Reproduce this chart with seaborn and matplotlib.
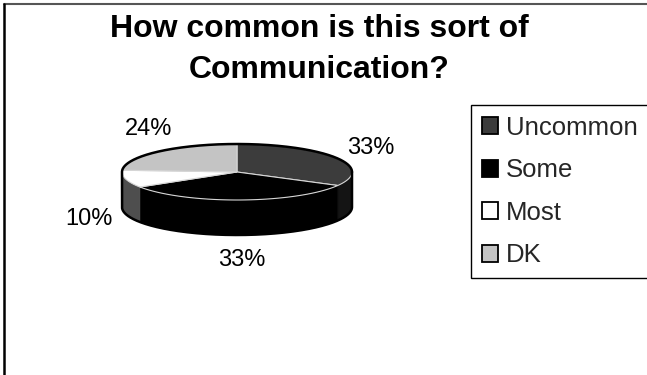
import numpy as np
import matplotlib
matplotlib.use("Agg")
import matplotlib.pyplot as plt
from matplotlib.patches import Polygon, Patch
from matplotlib.lines import Line2D
import seaborn as sns

# Survey answers and their shares (percent)
categories = ["Uncommon", "Some", "Most", "DK"]
shares = [33, 33, 10, 24]
value_labels = [f"{v}%" for v in shares]
title_lines = ["How common is this sort of", "Communication?"]

# Greyscale fills: top faces and the darker rim of each slice
top_colors = ["#3c3c3c", "#000000", "#ffffff", "#c4c4c4"]
side_colors = ["#141414", "#000000", "#4e4e4e", "#8a8a8a"]

sns.set_theme(style="white")
plt.rcParams["font.family"] = ["Liberation Sans", "DejaVu Sans"]

W, H = 647, 375
fig = plt.figure(figsize=(W / 100, H / 100), dpi=100)
fig.patch.set_facecolor("white")
ax = fig.add_axes([0, 0, 1, 1])
ax.set_xlim(0, W)
ax.set_ylim(H, 0)
ax.axis("off")

# Tilted pie geometry (in axes units)
cx, cy, rx, ry, depth = 237, 172, 115, 28, 35
# small hand nudges for the percentage labels (dx, dy)
label_nudge = {"Uncommon": (2, 3), "Some": (0, -1), "Most": (0, -1), "DK": (16, -4)}


def arc(t0, t1):
    n = max(2, int(abs(t1 - t0)) * 2 + 2)
    t = np.radians(np.linspace(t0, t1, n))
    return cx + rx * np.cos(t), cy - ry * np.sin(t)


total = sum(shares)
# clockwise from 12 o'clock
bounds = 90 - 360 * np.concatenate([[0], np.cumsum(shares)]) / total

# visible rim (front half of the disc)
for i in range(len(shares)):
    hi, lo = bounds[i], bounds[i + 1]
    for k in (-360, 0, 360):
        a0, a1 = max(lo + k, 180), min(hi + k, 360)
        if a1 > a0:
            x, y = arc(a0, a1)
            pts = np.column_stack([np.r_[x, x[::-1]], np.r_[y, y[::-1] + depth]])
            ax.add_patch(Polygon(pts, closed=True, fc=side_colors[i],
                                 ec=side_colors[i], lw=0.5, zorder=1))

# top faces
for i in range(len(shares)):
    x, y = arc(bounds[i], bounds[i + 1])
    pts = np.column_stack([np.r_[cx, x], np.r_[cy, y]])
    ax.add_patch(Polygon(pts, closed=True, fc=top_colors[i],
                         ec="#d6d6d6", lw=0.8, zorder=2))

# outer contour of the disc
xb, yb = arc(0, 180)
xf, yf = arc(180, 360)
ax.plot(np.r_[xb, xf, xb[0]], np.r_[yb, yf + depth, yb[0]],
        color="black", lw=1.8, zorder=3, solid_joinstyle="round")

# percentage labels around the slices
mids = (bounds[:-1] + bounds[1:]) / 2
for cat, txt, m in zip(categories, value_labels, mids):
    t = np.radians(m)
    dx, dy = label_nudge[cat]
    lx = cx + 153 * np.cos(t) + dx
    ly = cy - 54 * np.sin(t) + (depth if np.sin(t) < 0 else 0) + dy
    ax.text(lx, ly, txt, ha="center", va="center", fontsize=17, color="black")

# title
ax.text(319, 37, title_lines[0], ha="center", va="baseline",
        fontsize=23, fontweight="bold", color="black")
ax.text(319, 78.5, title_lines[1], ha="center", va="baseline",
        fontsize=23, fontweight="bold", color="black")

# legend
handles = [Patch(facecolor=c, edgecolor="black", lw=1.3) for c in top_colors]
leg = ax.legend(handles, categories, loc="upper left",
                bbox_to_anchor=(471 / W, 1 - 105 / H), borderaxespad=0,
                fontsize=18.5, frameon=True, fancybox=False, shadow=False,
                framealpha=1, edgecolor="black", handlelength=0.62,
                handleheight=0.62, handletextpad=0.32, labelspacing=0.72,
                borderpad=0.42)
leg.get_frame().set_linewidth(1.0)

# chart-area frame
fig.add_artist(Line2D([4 / W, 1], [1 - 4 / H, 1 - 4 / H], color="#555555", lw=1.5))
fig.add_artist(Line2D([4 / W, 4 / W], [0, 1 - 4 / H], color="black", lw=1.8))

fig.savefig("out.png", dpi=100)
